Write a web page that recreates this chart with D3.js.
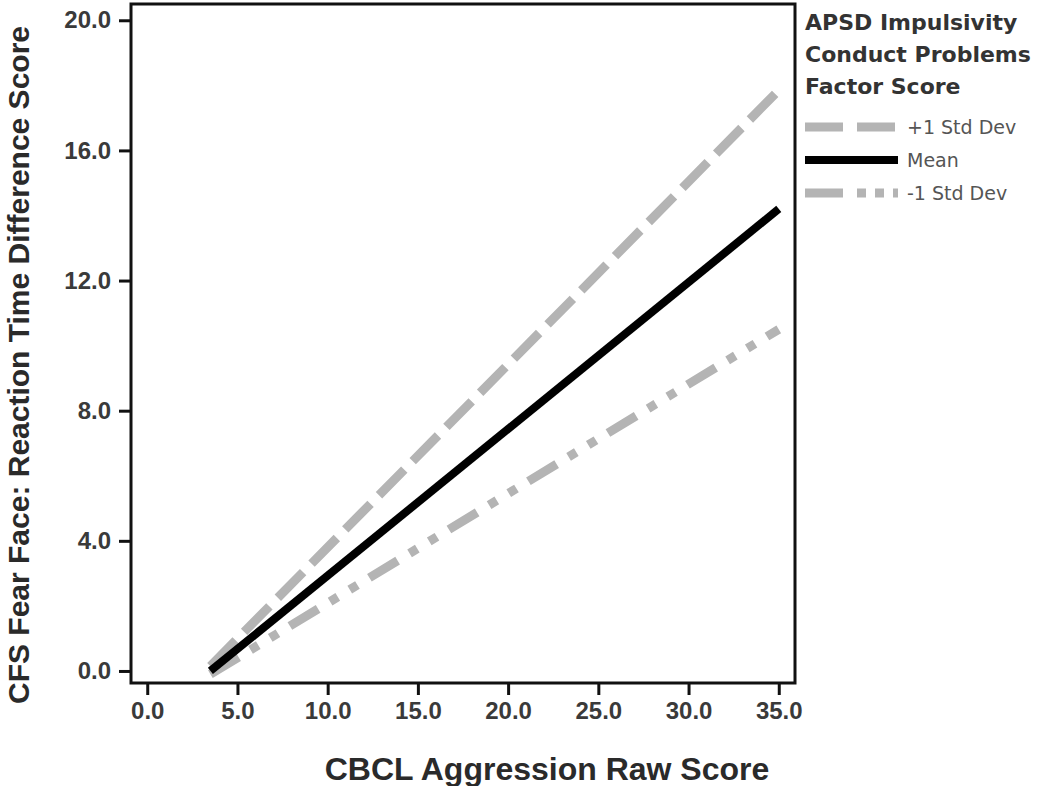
<!DOCTYPE html>
<html>
<head>
<meta charset="utf-8">
<script src="https://cdn.jsdelivr.net/npm/d3@7.9.0/dist/d3.min.js"></script>
<style>
  body { margin: 0; background: #fff; }
  svg { display: block; }
</style>
</head>
<body>
<script>
// Simple slopes: x endpoints and predicted scores per group
const xValues = [3.5, 35];
const plusSD = [0.15, 17.85];
const meanLine = [0.0, 14.2];
const minusSD = [-0.1, 10.5];

const xTicks = [0, 5, 10, 15, 20, 25, 30, 35];
const yTicks = [0, 4, 8, 12, 16, 20];

const legendTitle = ["APSD Impulsivity", "Conduct Problems", "Factor Score"];
const seriesNames = ["+1 Std Dev", "Mean", "-1 Std Dev"];

const W = 1040, H = 786;
const plot = { left: 131, top: 4, right: 795, bottom: 683 };

const svg = d3.select("body").append("svg")
    .attr("width", W)
    .attr("height", H);

const x = d3.scaleLinear().domain([-0.9, 35.9]).range([plot.left, plot.right]);
const y = d3.scaleLinear().domain([-0.37, 20.5]).range([plot.bottom, plot.top]);

const tickFont = "'Liberation Sans', Arial, sans-serif";

// x axis
const xAxis = svg.append("g")
    .attr("transform", `translate(0,${plot.bottom})`)
    .call(d3.axisBottom(x).tickValues(xTicks).tickSize(12).tickPadding(7).tickFormat(d3.format(".1f")));
xAxis.select(".domain").remove();

// y axis
const yAxis = svg.append("g")
    .attr("transform", `translate(${plot.left},0)`)
    .call(d3.axisLeft(y).tickValues(yTicks).tickSize(12).tickPadding(8).tickFormat(d3.format(".1f")));
yAxis.select(".domain").remove();

svg.selectAll(".tick line").attr("stroke", "#111").attr("stroke-width", 3);
svg.selectAll(".tick text")
    .attr("fill", "#3a3a3a")
    .style("font-family", tickFont)
    .style("font-weight", "bold")
    .style("font-size", "24px");

// plot frame
svg.append("rect")
    .attr("x", plot.left)
    .attr("y", plot.top)
    .attr("width", plot.right - plot.left)
    .attr("height", plot.bottom - plot.top)
    .attr("fill", "none")
    .attr("stroke", "#111")
    .attr("stroke-width", 3);

// lines, drawn grey first so the mean sits on top
const series = [
    { name: seriesNames[0], values: plusSD, color: "#b4b4b4", dash: "36,12", legendDash: "38,14", width: 9, ly: 127 },
    { name: seriesNames[2], values: minusSD, color: "#b4b4b4", dash: "33,14,9,14,9,14", legendDash: "38,14,9,9,9,9", width: 9, ly: 193 },
    { name: seriesNames[1], values: meanLine, color: "#000", dash: null, legendDash: null, width: 8, ly: 160 }
];

const line = d3.line()
    .x((d, i) => x(xValues[i]))
    .y(d => y(d));

svg.selectAll(".series")
    .data(series)
    .enter().append("path")
    .attr("class", "series")
    .attr("d", d => line(d.values))
    .attr("fill", "none")
    .attr("stroke", d => d.color)
    .attr("stroke-width", d => d.width)
    .attr("stroke-dasharray", d => d.dash);

// axis titles
svg.append("text")
    .attr("x", 547)
    .attr("y", 780)
    .attr("text-anchor", "middle")
    .attr("fill", "#2a2a2a")
    .style("font-family", tickFont)
    .style("font-weight", "bold")
    .style("font-size", "32px")
    .text("CBCL Aggression Raw Score");

svg.append("text")
    .attr("transform", "translate(29,365) rotate(-90)")
    .attr("text-anchor", "middle")
    .attr("fill", "#2a2a2a")
    .style("font-family", tickFont)
    .style("font-weight", "bold")
    .style("font-size", "30px")
    .text("CFS Fear Face: Reaction Time Difference Score");

// legend
const legend = svg.append("g").attr("transform", "translate(805,0)");

legend.selectAll(".ltitle")
    .data(legendTitle)
    .enter().append("text")
    .attr("class", "ltitle")
    .attr("x", 0)
    .attr("y", (d, i) => 30 + i * 32)
    .attr("fill", "#333")
    .style("font-family", "'DejaVu Sans', Verdana, sans-serif")
    .style("font-weight", "bold")
    .style("font-size", "22px")
    .text(d => d);

legend.selectAll(".lline")
    .data(series)
    .enter().append("line")
    .attr("class", "lline")
    .attr("x1", 0)
    .attr("x2", 93)
    .attr("y1", d => d.ly)
    .attr("y2", d => d.ly)
    .attr("stroke", d => d.color)
    .attr("stroke-width", d => d.width)
    .attr("stroke-dasharray", d => d.legendDash);

legend.selectAll(".ltext")
    .data(series)
    .enter().append("text")
    .attr("class", "ltext")
    .attr("x", 102)
    .attr("y", d => d.ly + 7)
    .attr("fill", "#555")
    .style("font-family", "'DejaVu Sans', Verdana, sans-serif")
    .style("font-size", "19px")
    .text(d => d.name);
</script>
</body>
</html>
